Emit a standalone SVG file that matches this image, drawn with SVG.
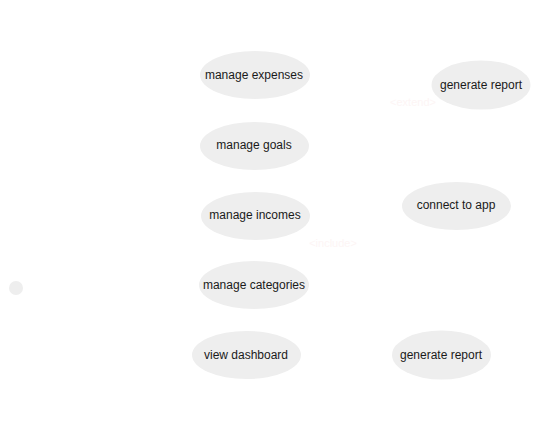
<svg xmlns="http://www.w3.org/2000/svg" width="542" height="441" viewBox="0 0 542 441">
<style>
.uc{fill:#eeeeee;stroke:none}
.t{font-family:"Liberation Sans",Arial,sans-serif;font-size:12px;fill:#1a1a1a;text-anchor:middle;dominant-baseline:central}
.lbl{font-family:"Liberation Sans",Arial,sans-serif;font-size:11px;fill:#fdf5f5;text-anchor:middle;dominant-baseline:central}
</style>
<rect width="542" height="441" fill="#ffffff"/>
<g id="connectors">
<text class="lbl" x="413" y="102">&lt;extend&gt;</text>
<text class="lbl" x="333" y="243">&lt;include&gt;</text>
</g>
<g id="actor"><circle cx="16" cy="288" r="7" fill="#eeeeee"/></g>
<g id="manage-expenses"><ellipse class="uc" cx="255" cy="75" rx="55" ry="24"/><text class="t" x="254" y="75">manage expenses</text></g>
<g id="manage-goals"><ellipse class="uc" cx="254.5" cy="146" rx="54.5" ry="24"/><text class="t" x="254" y="145">manage goals</text></g>
<g id="manage-incomes"><ellipse class="uc" cx="255.5" cy="216" rx="54.5" ry="24"/><text class="t" x="255" y="215">manage incomes</text></g>
<g id="manage-categories"><ellipse class="uc" cx="254" cy="285" rx="55" ry="24"/><text class="t" x="254" y="285">manage categories</text></g>
<g id="view-dashboard"><ellipse class="uc" cx="246.5" cy="355" rx="54.5" ry="24"/><text class="t" x="246" y="355">view dashboard</text></g>
<g id="generate-report-1"><ellipse class="uc" cx="481" cy="85" rx="49.5" ry="24.5"/><text class="t" x="481" y="85">generate report</text></g>
<g id="connect-to-app"><ellipse class="uc" cx="456.5" cy="206" rx="54.5" ry="24"/><text class="t" x="456" y="205">connect to app</text></g>
<g id="generate-report-2"><ellipse class="uc" cx="441.5" cy="355" rx="49.5" ry="24.5"/><text class="t" x="441" y="355">generate report</text></g>
</svg>
